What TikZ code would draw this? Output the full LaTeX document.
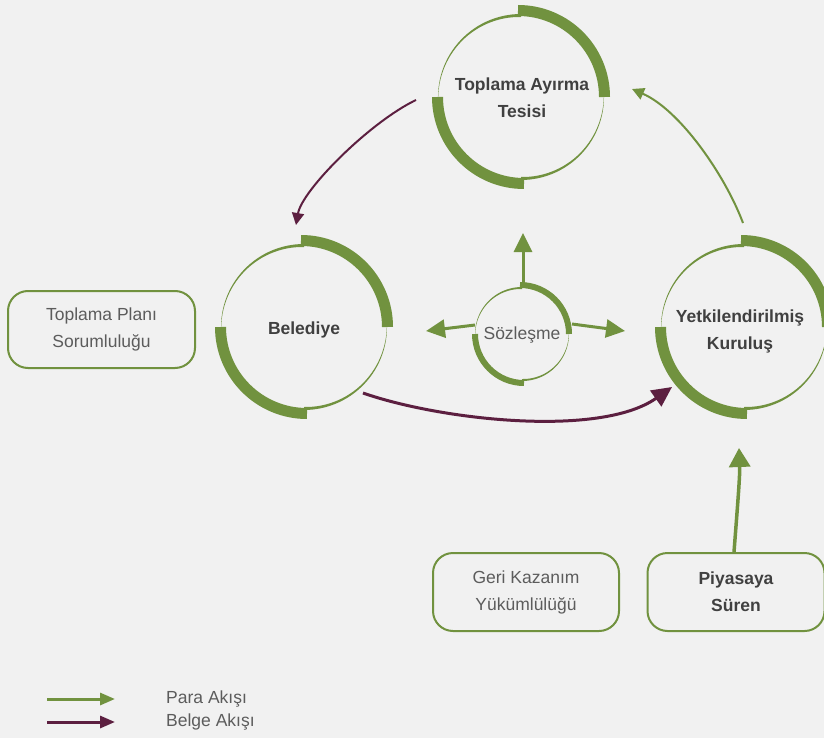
\documentclass[tikz,border=0pt]{standalone}
\usepackage{fontspec}
\setmainfont{Liberation Sans}
\usetikzlibrary{arrows.meta,calc}
\definecolor{bgc}{HTML}{F1F1F1}
\definecolor{gr}{HTML}{71923F}
\definecolor{pu}{HTML}{5C1F40}
\definecolor{tx}{HTML}{404040}
\definecolor{tl}{HTML}{5C5C5C}
% tapered thin stroke: cx cy r a b w  (thick w at angle a, thin at b)
\newcommand\taperline[6]{%
  \fill[gr] plot[domain=#4:#5,samples=30,variable=\t] ({#1+#3*cos(\t)},{#2-#3*sin(\t)})
   -- plot[domain=#5:#4,samples=30,variable=\t]
   ({#1+(#3-0.2-(#6-0.2)*(\t-#5)/(#4-#5))*cos(\t)},{#2-(#3-0.2-(#6-0.2)*(\t-#5)/(#4-#5))*sin(\t)}) -- cycle;}
% ring: cx cy bandmid bandwidth thinr thinw offset
\newcommand\mkring[7]{%
  \draw[gr,line width=#4pt] ([shift={(#1-#7,#2)}]-90:#3) arc[start angle=-90,end angle=0,radius=#3];
  \draw[gr,line width=#4pt] ([shift={(#1+#7,#2)}]180:#3) arc[start angle=180,end angle=90,radius=#3];
  \taperline{#1}{#2}{#5}{90}{180}{#6}
  \taperline{#1}{#2}{#5}{270}{360}{#6}}
\tikzset{
  lblb/.style={font=\fontsize{17.5}{27}\selectfont\bfseries,text=tx,align=center,inner sep=0pt},
  lbln/.style={font=\fontsize{17.5}{27}\selectfont,text=tl,align=center,inner sep=0pt},
  boxst/.style={draw=gr,line width=2pt,rounded corners=20pt,align=center,inner sep=0pt},
  garrow/.style={draw=gr,line width=3pt,-{Triangle[length=19pt,width=18pt]}},
  parrow/.style={draw=pu,line width=2pt,-{Triangle[length=12pt,width=12pt]}},
}
\begin{document}
\begin{tikzpicture}[x=1pt,y=-1pt]
\useasboundingbox (0,0) rectangle (824,738);
\fill[bgc] (0,0) rectangle (824,738);
\clip (0,0) rectangle (824,738);
% ring centres
\coordinate (cT) at (521,97);
\coordinate (cB) at (304,327);
\coordinate (cY) at (744,327);
\coordinate (cS) at (522,334);
% rings
\mkring{521}{97}{86.5}{11}{83}{3}{3}
\mkring{304}{327}{86.5}{11}{83}{3}{3}
\mkring{744}{327}{86.5}{11}{83}{3}{3}
\mkring{522}{334}{49}{6}{47}{2}{2}
% labels
\node[lblb] (tesis) at (522,98) {Toplama Ayırma\\Tesisi};
\node[lblb] (bel) at (304,330) {Belediye};
\node[lblb] (yet) at (740,331) {Yetkilendirilmiş\\Kuruluş};
\node[lbln] (soz) at (522,335) {Sözleşme};
% boxes
\node[boxst,lbln,minimum width=187pt,minimum height=77pt] (plan) at (101.5,329.5) {Toplama Planı\\Sorumluluğu};
\node[boxst,lbln,minimum width=186pt,minimum height=78pt] (geri) at (526,592) {Geri Kazanım\\Yükümlülüğü};
\node[boxst,lblb,minimum width=177pt,minimum height=78pt] (piy) at (736,592) {Piyasaya\\Süren};
% arrow end points
\coordinate (a1s) at ($(cT)+(-105,3)$);
\coordinate (a1e) at ($(cB)+(-8,-102)$);
\coordinate (a2s) at ($(cY)+(-1,-104)$);
\coordinate (a2e) at ($(cT)+(111,-8)$);
\coordinate (a3s) at ($(cB)+(59,66)$);
\coordinate (a3e) at ($(cY)+(-72,60)$);
\coordinate (s4) at ($(cS)+(1,-52)$);
\coordinate (e4) at ($(cS)+(1,-101)$);
\coordinate (s5) at ($(cS)+(-47,-9)$);
\coordinate (e5) at ($(cS)+(-96,-3)$);
\coordinate (s6) at ($(cS)+(50,-10)$);
\coordinate (e6) at ($(cS)+(103,-3)$);
\coordinate (s7) at ($(piy.north)+(-2,0)$);
\coordinate (e7) at ($(cY)+(-5,121)$);
% connectors
\draw[parrow] (a1s) .. controls (370,122) and (302,190) .. (a1e);
\draw[garrow,line width=2pt,-{Triangle[length=12pt,width=12pt]}] (a2s) .. controls (725,175) and (680,110) .. (a2e);
\draw[parrow,line width=3pt,-{Triangle[length=20pt,width=19pt]}] (a3s) .. controls (440,420) and (600,438) .. (a3e);
\draw[garrow] (s4) -- (e4);
\draw[garrow] (s5) -- (e5);
\draw[garrow] (s6) -- (e6);
\draw[garrow,line width=3.5pt,-{Triangle[length=19pt,width=21pt]}] (s7) .. controls (738,500) and (740,475) .. (e7);
% legend
\coordinate (lg1) at (47,699);
\coordinate (lg1e) at (115,699);
\coordinate (lg2) at (47,722);
\coordinate (lg2e) at (115,722);
\draw[draw=gr,line width=3pt,-{Triangle[length=15pt,width=12pt]}] (lg1) -- (lg1e);
\draw[draw=pu,line width=3pt,-{Triangle[length=15pt,width=12pt]}] (lg2) -- (lg2e);
\node[lbln,anchor=west] (lpara) at (166,699) {Para Akışı};
\node[lbln,anchor=west] (lbelge) at (166,722) {Belge Akışı};
\end{tikzpicture}
\end{document}
